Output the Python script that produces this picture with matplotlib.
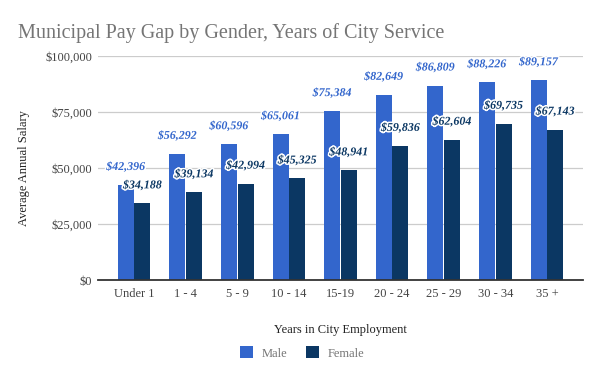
import matplotlib
matplotlib.use("Agg")
import matplotlib.pyplot as plt
import matplotlib.patheffects as pe
import numpy as np
from matplotlib.ticker import FuncFormatter

categories = ["Under 1", "1 - 4", "5 - 9", "10 - 14", "15-19", "20 - 24", "25 - 29", "30 - 34", "35 +"]
male = [42396, 56292, 60596, 65061, 75384, 82649, 86809, 88226, 89157]
female = [34188, 39134, 42994, 45325, 48941, 59836, 62604, 69735, 67143]

male_color = "#3366cc"
female_color = "#0b3763"

plt.rcParams['font.family'] = ['Liberation Serif', 'DejaVu Serif']

fig = plt.figure(figsize=(6, 3.71), dpi=100)
ax = fig.add_axes([98/600, 1 - 280/371, 485/600, 224/371])

x = np.arange(len(categories))
w = 0.31
off = 0.162
bm = ax.bar(x - off, male, width=w, color=male_color, label="Male", zorder=3)
bf = ax.bar(x + off, female, width=w, color=female_color, label="Female", zorder=3)

stroke = [pe.withStroke(linewidth=2.2, foreground="white")]
for xi, v in zip(x - off, male):
    ax.annotate(f"${v:,}", (xi, v), xytext=(0, 13), textcoords="offset points",
                ha="center", va="center", fontsize=8.6, style="italic", fontweight="bold",
                color=male_color, zorder=5, path_effects=stroke)
for xi, v in zip(x + off, female):
    ax.annotate(f"${v:,}", (xi, v), xytext=(0, 13), textcoords="offset points",
                ha="center", va="center", fontsize=8.6, style="italic", fontweight="bold",
                color=female_color, zorder=5, path_effects=stroke)

ax.set_xlim(-0.7, 8.7)
ax.set_ylim(0, 100000)
ax.set_yticks([0, 25000, 50000, 75000, 100000])
ax.yaxis.set_major_formatter(FuncFormatter(lambda v, p: f"${int(v):,}"))
ax.set_xticks(x)
ax.set_xticklabels(categories)
ax.tick_params(axis="both", length=0, labelsize=9, colors="#444444")
ax.tick_params(axis="x", pad=6)
ax.tick_params(axis="y", pad=4)
ax.grid(axis="y", color="#cccccc", linewidth=0.9, zorder=0)
for s in ["top", "right", "left"]:
    ax.spines[s].set_visible(False)
ax.spines["bottom"].set_color("#333333")
ax.spines["bottom"].set_linewidth(1.3)
ax.spines["bottom"].set_zorder(4)

ax.set_xlabel("Years in City Employment", fontsize=9, color="#222222", labelpad=17)
fig.text(24/600, 1 - 168/371, "Average Annual Salary", rotation=90, ha="center", va="center",
         fontsize=9, color="#222222")

fig.text(18/600, 1 - 33/371, "Municipal Pay Gap by Gender, Years of City Service",
         fontsize=14.5, color="#757575", ha="left", va="center")

leg = fig.legend(handles=[bm, bf], labels=["Male", "Female"], loc="center",
                 bbox_to_anchor=(302/600, 1 - 353/371), ncol=2, frameon=False,
                 fontsize=9, handlelength=1.05, handleheight=1.05, columnspacing=1.5,
                 handletextpad=0.7)
for t in leg.get_texts():
    t.set_color("#757575")

fig.savefig("out.png", dpi=100)
